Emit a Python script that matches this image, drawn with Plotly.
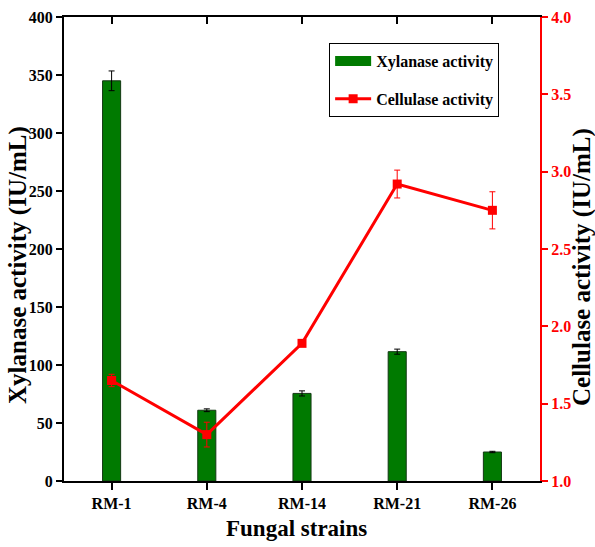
import plotly.graph_objects as go

strains = ["RM-1", "RM-4", "RM-14", "RM-21", "RM-26"]
xylanase = [345, 61, 75.5, 111.5, 25]
xylanase_err = [8.5, 1.2, 2.2, 2.2, 0.6]
cellulase = [1.65, 1.30, 1.89, 2.92, 2.75]
cellulase_err = [0.04, 0.08, 0.01, 0.09, 0.12]
y1_ticks = [0, 50, 100, 150, 200, 250, 300, 350, 400]
y2_ticks = [1.0, 1.5, 2.0, 2.5, 3.0, 3.5, 4.0]

xpos = list(range(len(strains)))
FONT = "Liberation Serif"
GREEN = "#007a00"
RED = "#ff0000"
W, H = 595, 547
ML, MR, MT, MB = 64, 55, 17, 66

fig = go.Figure()
fig.add_trace(go.Bar(
    x=xpos, y=xylanase, width=0.19, name="Xylanase activity",
    marker=dict(color=GREEN, line=dict(color="#143814", width=1)),
    error_y=dict(type="data", array=xylanase_err, color="black", thickness=1, width=3),
    showlegend=False,
))
fig.add_trace(go.Scatter(
    x=[None], y=[None], mode="lines", name="<b>Xylanase activity</b>",
    line=dict(color=GREEN, width=16), legendgroup="a", hoverinfo="skip",
))
fig.add_trace(go.Scatter(
    x=xpos, y=cellulase, yaxis="y2", name="<b>Cellulase activity</b>",
    mode="lines+markers",
    line=dict(color=RED, width=3),
    marker=dict(symbol="square", size=9, color=RED),
    error_y=dict(type="data", array=cellulase_err, color=RED, thickness=1, width=3),
    legendgroup="b",
))
fig.add_trace(go.Scatter(x=[None], y=[None], xaxis="x2", showlegend=False, hoverinfo="skip"))

pw, ph = W - ML - MR, H - MT - MB
def px(x):
    return (x - ML) / pw
def py(y):
    return (H - MB - y) / ph

fig.update_layout(
    width=W, height=H,
    margin=dict(l=ML, r=MR, t=MT, b=MB),
    paper_bgcolor="white", plot_bgcolor="white",
    font=dict(family=FONT, color="black"),
    showlegend=True,
    legend=dict(
        x=0.557, y=0.944, xanchor="left", yanchor="top",
        bordercolor="black", borderwidth=1, bgcolor="white",
        font=dict(family=FONT, size=16, color="black"),
        tracegroupgap=14, itemwidth=36,
    ),
    xaxis=dict(
        range=[-0.5, 4.5], tickvals=xpos, ticktext=["<b>%s</b>" % s for s in strains],
        showline=True, linecolor="black", linewidth=2,
        ticks="outside", ticklen=7, tickwidth=1.5, tickcolor="black",
        tickfont=dict(size=16, family=FONT),
        showgrid=False, zeroline=False, automargin=False,
    ),
    xaxis2=dict(
        overlaying="x", side="top", range=[-0.5, 4.5], tickvals=xpos,
        showticklabels=False, showline=True, linecolor="black", linewidth=2,
        ticks="inside", ticklen=7, tickwidth=1.5, tickcolor="black",
        showgrid=False, zeroline=False, automargin=False,
    ),
    yaxis=dict(
        range=[0, 400], tickvals=y1_ticks, ticktext=["<b>%d</b>" % v for v in y1_ticks],
        showline=True, linecolor="black", linewidth=2,
        ticks="outside", ticklen=6, tickwidth=1.5, tickcolor="black",
        tickfont=dict(size=16, family=FONT),
        showgrid=False, zeroline=False, automargin=False,
    ),
    yaxis2=dict(
        overlaying="y", side="right", range=[1.0, 4.0], tickvals=y2_ticks,
        ticktext=["<b>%.1f</b>" % v for v in y2_ticks],
        showline=True, linecolor=RED, linewidth=2,
        ticks="outside", ticklen=6, tickwidth=1.5, tickcolor=RED,
        tickfont=dict(size=16, family=FONT, color=RED),
        showgrid=False, zeroline=False, automargin=False,
    ),
    annotations=[
        dict(text="<b>Xylanase activity (IU/mL)</b>", textangle=-90, showarrow=False,
             xref="paper", yref="paper", x=px(18), y=py(265), xanchor="center", yanchor="middle",
             font=dict(size=25, family=FONT, color="black")),
        dict(text="<b>Cellulase activity (IU/mL)</b>", textangle=-90, showarrow=False,
             xref="paper", yref="paper", x=px(582), y=py(267), xanchor="center", yanchor="middle",
             font=dict(size=25, family=FONT, color="black")),
        dict(text="<b>Fungal strains</b>", showarrow=False,
             xref="paper", yref="paper", x=px(296), y=py(528), xanchor="center", yanchor="middle",
             font=dict(size=23, family=FONT, color="black")),
    ],
)

fig.write_html("out.html")
